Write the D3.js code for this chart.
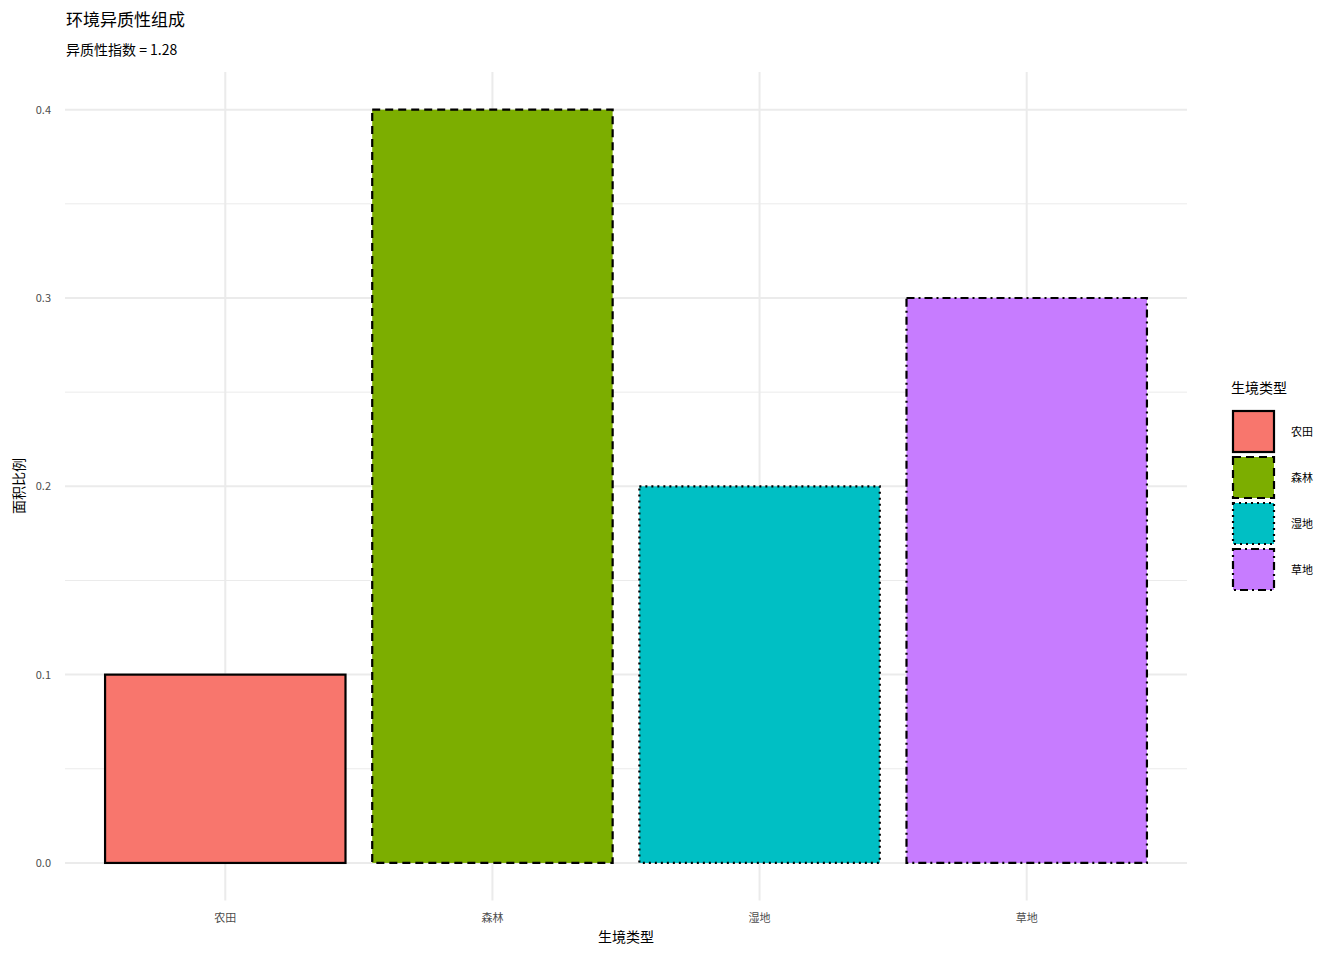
<!DOCTYPE html><html><head><meta charset="utf-8">
<script src="https://cdn.jsdelivr.net/npm/d3@7"></script>
<style>body{margin:0;background:#fff}text{font-family:"Noto Sans CJK SC","Noto Sans",sans-serif}</style>
</head><body><svg id="c" width="1344" height="960"></svg><script>
const categories=["农田","森林","湿地","草地"];
const values=[0.1,0.4,0.2,0.3];
const colors=["#F8766D","#7CAE00","#00BFC4","#C77CFF"];
const dashes=[null,"8,5","2,4","8,4,2,4"];
const yTicks=[0,0.1,0.2,0.3,0.4];
const svg=d3.select("#c");
const L=65,R=1187,T=72,B=900.6;
const y=d3.scaleLinear().domain([-0.02,0.42]).range([B,T]);
const step=(R-L)/4.2;
const xc=i=>L+step*(0.6+i);
const bw=step*0.9;
const g=svg.append("g");
// minor grid
for(let v=0.05;v<0.4;v+=0.1)g.append("line").attr("x1",L).attr("x2",R).attr("y1",y(v)).attr("y2",y(v)).attr("stroke","#ebebeb").attr("stroke-width",1);
yTicks.forEach(v=>g.append("line").attr("x1",L).attr("x2",R).attr("y1",y(v)).attr("y2",y(v)).attr("stroke","#ebebeb").attr("stroke-width",2));
categories.forEach((c,i)=>g.append("line").attr("x1",xc(i)).attr("x2",xc(i)).attr("y1",T).attr("y2",B).attr("stroke","#ebebeb").attr("stroke-width",2));
categories.forEach((c,i)=>{
 g.append("rect").attr("x",xc(i)-bw/2).attr("width",bw).attr("y",y(values[i])).attr("height",y(0)-y(values[i]))
  .attr("fill",colors[i]).attr("stroke","#000").attr("stroke-width",2.2).attr("stroke-dasharray",dashes[i]);
 g.append("text").attr("x",xc(i)).attr("y",922).attr("text-anchor","middle").attr("font-size",11).attr("fill","#4d4d4d").text(c);
});
yTicks.forEach(v=>g.append("text").attr("x",51).attr("y",y(v)+4).attr("text-anchor","end").attr("font-size",11).attr("fill","#4d4d4d").text(v.toFixed(1)));
svg.append("text").attr("x",626).attr("y",942).attr("text-anchor","middle").attr("font-size",14).text("生境类型");
svg.append("text").attr("transform","translate(24,486) rotate(-90)").attr("text-anchor","middle").attr("font-size",14).text("面积比例");
svg.append("text").attr("x",66).attr("y",26).attr("font-size",17).text("环境异质性组成");
svg.append("text").attr("x",66).attr("y",55).attr("font-size",14).text("异质性指数 = 1.28");
svg.append("text").attr("x",1231).attr("y",393).attr("font-size",14).text("生境类型");
categories.forEach((c,i)=>{
 const yy=410+i*46;
 svg.append("rect").attr("x",1233).attr("y",yy+1).attr("width",41).attr("height",41).attr("fill",colors[i]).attr("stroke","#000").attr("stroke-width",2.2).attr("stroke-dasharray",dashes[i]);
 svg.append("text").attr("x",1291).attr("y",yy+26).attr("font-size",11).text(c);
});
</script></body></html>
